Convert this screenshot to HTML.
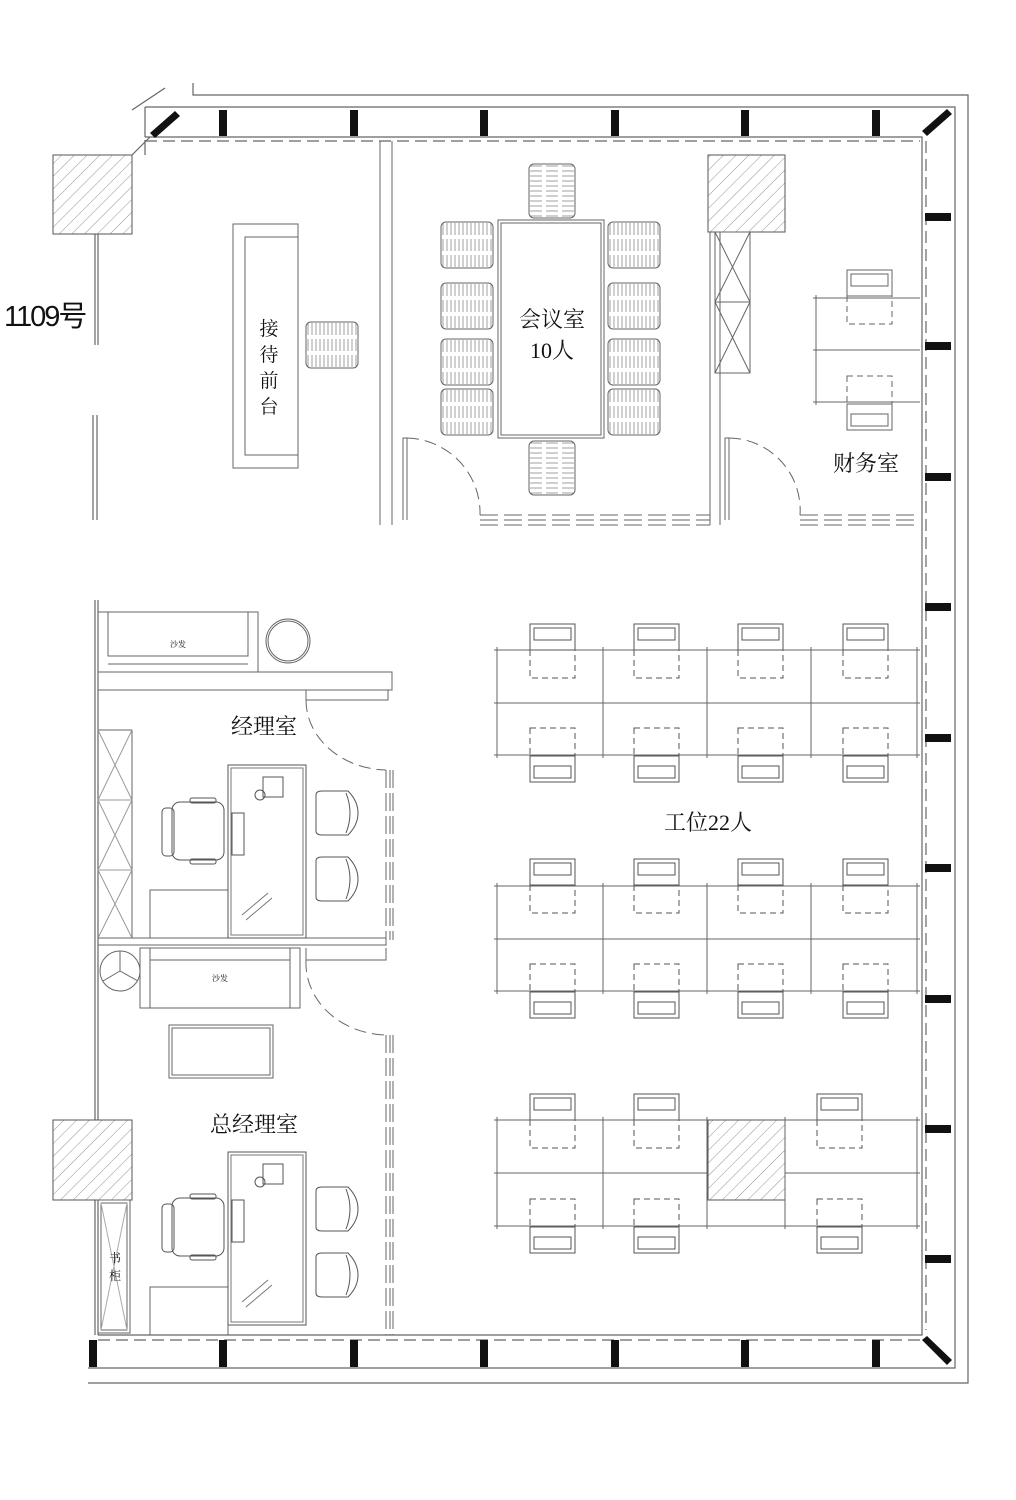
<!DOCTYPE html>
<html><head><meta charset="utf-8"><style>
html,body{margin:0;padding:0;background:#fff;}
svg{display:block}
text{font-family:"Liberation Serif","Noto Serif CJK SC","Noto Sans CJK SC",serif;fill:#111}
</style></head><body>
<svg width="1016" height="1500" viewBox="0 0 1016 1500" xmlns="http://www.w3.org/2000/svg">
<defs>
<pattern id="hatch" width="9" height="9" patternUnits="userSpaceOnUse" patternTransform="rotate(45)">
<line x1="0" y1="0" x2="0" y2="9" stroke="#777" stroke-width="0.8"/></pattern>
<pattern id="vdash" width="4" height="16" patternUnits="userSpaceOnUse">
<line x1="2" y1="1" x2="2" y2="13" stroke="#888" stroke-width="0.8"/></pattern>
<pattern id="hdash" width="16" height="5" patternUnits="userSpaceOnUse">
<line x1="1" y1="2" x2="13" y2="2" stroke="#888" stroke-width="0.8"/></pattern>
<g id="ws">
<rect x="0" y="0" width="45" height="26" fill="none" stroke="#555"/>
<rect x="4" y="4" width="37" height="12" fill="none" stroke="#555"/>
<rect x="0" y="26" width="45" height="28" fill="none" stroke="#555" stroke-dasharray="6,4"/>
</g>
<g id="wsb">
<rect x="0" y="0" width="45" height="28" fill="none" stroke="#555" stroke-dasharray="6,4"/>
<rect x="0" y="28" width="45" height="26" fill="none" stroke="#555"/>
<rect x="4" y="38" width="37" height="12" fill="none" stroke="#555"/>
</g>
<g id="cc"><rect x="0" y="0" width="52" height="46" rx="5" fill="url(#vdash)" stroke="#666"/></g>
<g id="cch"><rect x="0" y="0" width="46" height="54" rx="5" fill="url(#hdash)" stroke="#666"/></g>
<g id="boss">
<rect x="10" y="0" width="52" height="58" rx="8" fill="none" stroke="#555"/>
<rect x="0" y="6" width="12" height="48" rx="4" fill="none" stroke="#555"/>
<rect x="28" y="-4" width="26" height="5" rx="2" fill="none" stroke="#555"/>
<rect x="28" y="57" width="26" height="5" rx="2" fill="none" stroke="#555"/>
</g>
<g id="guest">
<path d="M0 4 Q0 0 6 0 L32 0 Q42 10 42 22 Q42 34 32 44 L6 44 Q0 44 0 40 Z" fill="none" stroke="#555"/>
<path d="M30 2 Q38 22 30 42" fill="none" stroke="#555"/>
</g>
<g id="desk">
<rect x="0" y="0" width="78" height="173" fill="none" stroke="#555"/>
<rect x="3" y="3" width="72" height="167" fill="none" stroke="#777"/>
<rect x="35" y="12" width="20" height="20" fill="none" stroke="#555"/>
<circle cx="32" cy="30" r="5" fill="none" stroke="#555"/>
<rect x="4" y="48" width="12" height="42" fill="none" stroke="#555"/>
<path d="M14 150 L40 128 M18 155 L44 133" stroke="#777"/>
</g>
</defs>

<g fill="none" stroke="#666" stroke-width="1.2">
<path d="M193 83 L193 95 L968 95 L968 1383 L88 1383"/>
<path d="M145 107 L955 107 L955 1368 L88 1368"/>
<path d="M145 137 L922 137 L922 1335 L98 1335"/>
<line x1="145" y1="141" x2="920" y2="141" stroke-dasharray="12,6"/>
<line x1="926" y1="141" x2="926" y2="1330" stroke-dasharray="12,6"/>
<line x1="98" y1="1340" x2="920" y2="1340" stroke-dasharray="12,6"/>
<line x1="145" y1="107" x2="145" y2="137"/>
<line x1="145" y1="140" x2="145" y2="155"/>
<line x1="132" y1="155" x2="150" y2="137"/>
<line x1="132" y1="110" x2="165" y2="88"/>
<line x1="95" y1="234" x2="95" y2="345"/>
<line x1="98" y1="234" x2="98" y2="345"/>
<line x1="93" y1="415" x2="93" y2="520"/>
<line x1="97" y1="415" x2="97" y2="520"/>
<line x1="95" y1="600" x2="95" y2="1120"/>
<line x1="98" y1="600" x2="98" y2="1120"/>
<line x1="95" y1="1200" x2="95" y2="1335"/>
<line x1="98" y1="1200" x2="98" y2="1335"/>
</g>
<g fill="#111">
<rect x="219" y="110" width="8" height="26"/><rect x="350" y="110" width="8" height="26"/>
<rect x="480" y="110" width="8" height="26"/><rect x="611" y="110" width="8" height="26"/>
<rect x="741" y="110" width="8" height="26"/><rect x="872" y="110" width="8" height="26"/>
<rect x="925" y="213" width="26" height="8"/><rect x="925" y="342" width="26" height="8"/>
<rect x="925" y="473" width="26" height="8"/><rect x="925" y="603" width="26" height="8"/>
<rect x="925" y="734" width="26" height="8"/><rect x="925" y="864" width="26" height="8"/>
<rect x="925" y="995" width="26" height="8"/><rect x="925" y="1125" width="26" height="8"/>
<rect x="925" y="1255" width="26" height="8"/>
<rect x="89" y="1340" width="8" height="27"/><rect x="219" y="1340" width="8" height="27"/>
<rect x="350" y="1340" width="8" height="27"/><rect x="480" y="1340" width="8" height="27"/>
<rect x="611" y="1340" width="8" height="27"/><rect x="741" y="1340" width="8" height="27"/>
<rect x="872" y="1340" width="8" height="27"/>
<polygon points="150,133 175,111 180,116 155,138"/>
<polygon points="922,131 947,109 952,114 927,136"/>
<polygon points="922,1340 927,1336 952,1360 947,1365"/>
</g>
<g stroke="#555" fill="url(#hatch)">
<rect x="53" y="155" width="79" height="79"/>
<rect x="708" y="155" width="77" height="77"/>
<rect x="53" y="1120" width="79" height="80"/>
<rect x="708" y="1120" width="77" height="80"/>
</g>
<text x="4" y="326" font-size="29" letter-spacing="-2" style="font-family:'Liberation Sans','Noto Sans CJK SC',sans-serif">1109号</text>

<g fill="none" stroke="#666" stroke-width="1">
<rect x="233" y="224" width="65" height="244"/>
<rect x="245" y="237" width="53" height="218"/>
<line x1="380" y1="141" x2="380" y2="525"/><line x1="392" y1="141" x2="392" y2="525"/>
<path d="M403 520 L403 438 L407 438 L407 520"/>
<path d="M407 438 A75 75 0 0 1 480 515" stroke-dasharray="12,6"/>
<path d="M480 515 L710 515 M480 520 L710 520 M480 525 L710 525" stroke-dasharray="18,6"/>
<rect x="498" y="220" width="106" height="218"/>
<rect x="501" y="223" width="100" height="212"/>
<line x1="710" y1="232" x2="710" y2="525"/><line x1="720" y1="232" x2="720" y2="525"/>
<rect x="715" y="232" width="35" height="141"/>
<line x1="715" y1="302" x2="750" y2="302"/>
<path d="M715 232 L750 302 M750 232 L715 302 M715 302 L750 373 M750 302 L715 373"/>
<path d="M725 520 L725 438 L729 438 L729 520"/>
<path d="M729 438 A72 72 0 0 1 800 515" stroke-dasharray="12,6"/>
<path d="M800 515 L920 515 M800 520 L920 520 M800 525 L920 525" stroke-dasharray="18,6"/>
<path d="M813 298 L920 298 M813 350 L920 350 M813 402 L920 402 M816 295 L816 405"/>
<rect x="847" y="270" width="45" height="26"/><rect x="851" y="274" width="37" height="12"/>
<rect x="847" y="296" width="45" height="28" stroke-dasharray="6,4"/>
<rect x="847" y="376" width="45" height="28" stroke-dasharray="6,4"/>
<rect x="847" y="404" width="45" height="26"/><rect x="851" y="414" width="37" height="12"/>
</g>
<use href="#cc" x="306" y="322"/>
<use href="#cc" x="441" y="222"/><use href="#cc" x="441" y="283"/><use href="#cc" x="441" y="339"/><use href="#cc" x="441" y="389"/>
<use href="#cc" x="608" y="222"/><use href="#cc" x="608" y="283"/><use href="#cc" x="608" y="339"/><use href="#cc" x="608" y="389"/>
<use href="#cch" x="529" y="164"/><use href="#cch" x="529" y="441"/>

<g fill="none" stroke="#666" stroke-width="1">
<path d="M494 650 L920 650 M494 703 L920 703 M494 755 L920 755 M497 647 L497 758 M603 647 L603 758 M707 647 L707 758 M811 647 L811 758 M917 647 L917 758"/>
<path d="M494 886 L920 886 M494 939 L920 939 M494 991 L920 991 M497 883 L497 994 M603 883 L603 994 M707 883 L707 994 M811 883 L811 994 M917 883 L917 994"/>
<path d="M494 1120 L708 1120 M785 1120 L920 1120 M494 1173 L708 1173 M785 1173 L920 1173 M494 1226 L920 1226 M497 1117 L497 1229 M603 1117 L603 1229 M707 1117 L707 1229 M785 1117 L785 1229 M917 1117 L917 1229"/>
</g>
<use href="#ws" x="530" y="624"/><use href="#ws" x="634" y="624"/><use href="#ws" x="738" y="624"/><use href="#ws" x="843" y="624"/>
<use href="#wsb" x="530" y="728"/><use href="#wsb" x="634" y="728"/><use href="#wsb" x="738" y="728"/><use href="#wsb" x="843" y="728"/>
<use href="#ws" x="530" y="859"/><use href="#ws" x="634" y="859"/><use href="#ws" x="738" y="859"/><use href="#ws" x="843" y="859"/>
<use href="#wsb" x="530" y="964"/><use href="#wsb" x="634" y="964"/><use href="#wsb" x="738" y="964"/><use href="#wsb" x="843" y="964"/>
<use href="#ws" x="530" y="1094"/><use href="#ws" x="634" y="1094"/><use href="#ws" x="817" y="1094"/>
<use href="#wsb" x="530" y="1199"/><use href="#wsb" x="634" y="1199"/><use href="#wsb" x="817" y="1199"/>

<g fill="none" stroke="#666" stroke-width="1">
<rect x="98" y="612" width="160" height="60"/>
<rect x="108" y="612" width="140" height="44"/>
<line x1="108" y1="664" x2="248" y2="664"/>
<circle cx="288" cy="641" r="22"/><circle cx="288" cy="641" r="20"/>
<path d="M98 672 L392 672 L392 690 L98 690"/>
<path d="M306 690 L306 700 L388 700 L388 690"/>
<path d="M306 700 A82 70 0 0 0 386 770" stroke-dasharray="12,6"/>
<path d="M386 770 L386 940 M390 770 L390 940 M393 770 L393 940" stroke-dasharray="18,5"/>
<rect x="98" y="730" width="34" height="208"/>
<path d="M98 730 L132 800 M132 730 L98 800 M98 800 L132 870 M132 800 L98 870 M98 870 L132 938 M132 870 L98 938 M98 800 L132 800 M98 870 L132 870" stroke="#999"/>
<rect x="150" y="890" width="78" height="48"/>
<path d="M98 938 L386 938 L386 945 L98 945"/>
<path d="M306 948 L306 960 L386 960 L386 948"/>
<circle cx="120" cy="971" r="20"/>
<path d="M120 971 L120 951 M120 971 L103 981 M120 971 L138 981"/>
<rect x="140" y="948" width="160" height="60"/>
<rect x="150" y="948" width="140" height="60"/>
<line x1="150" y1="960" x2="290" y2="960"/>
<rect x="169" y="1025" width="104" height="53"/><rect x="172" y="1028" width="98" height="47"/>
<path d="M306 960 A82 72 0 0 0 386 1035" stroke-dasharray="12,6"/>
<path d="M386 1035 L386 1335 M390 1035 L390 1335 M393 1035 L393 1335" stroke-dasharray="18,5"/>
<rect x="98" y="1200" width="32" height="133"/>
<rect x="101" y="1203" width="26" height="127"/>
<path d="M101 1203 L127 1330 M127 1203 L101 1330" stroke="#aaa"/>
<rect x="150" y="1287" width="78" height="48"/>
</g>
<use href="#desk" x="228" y="765"/>
<use href="#desk" x="228" y="1152"/>
<use href="#boss" x="162" y="802"/>
<use href="#boss" x="162" y="1198"/>
<use href="#guest" x="316" y="791"/><use href="#guest" x="316" y="857"/>
<use href="#guest" x="316" y="1187"/><use href="#guest" x="316" y="1253"/>

<g font-size="21">
<text x="269" y="335" text-anchor="middle" font-size="19">接</text>
<text x="269" y="361" text-anchor="middle" font-size="19">待</text>
<text x="269" y="387" text-anchor="middle" font-size="19">前</text>
<text x="269" y="413" text-anchor="middle" font-size="19">台</text>
<text x="552" y="327" text-anchor="middle" font-size="22">会议室</text>
<text x="552" y="358" text-anchor="middle" font-size="22">10人</text>
<text x="866" y="471" text-anchor="middle" font-size="22">财务室</text>
<text x="264" y="734" text-anchor="middle" font-size="22">经理室</text>
<text x="708" y="830" text-anchor="middle" font-size="22">工位22人</text>
<text x="254" y="1132" text-anchor="middle" font-size="22">总经理室</text>
<text x="178" y="647" text-anchor="middle" font-size="8">沙发</text>
<text x="220" y="981" text-anchor="middle" font-size="8">沙发</text>
<text x="115" y="1262" text-anchor="middle" font-size="12">书</text>
<text x="115" y="1280" text-anchor="middle" font-size="12">柜</text>
</g>
</svg>
</body></html>
